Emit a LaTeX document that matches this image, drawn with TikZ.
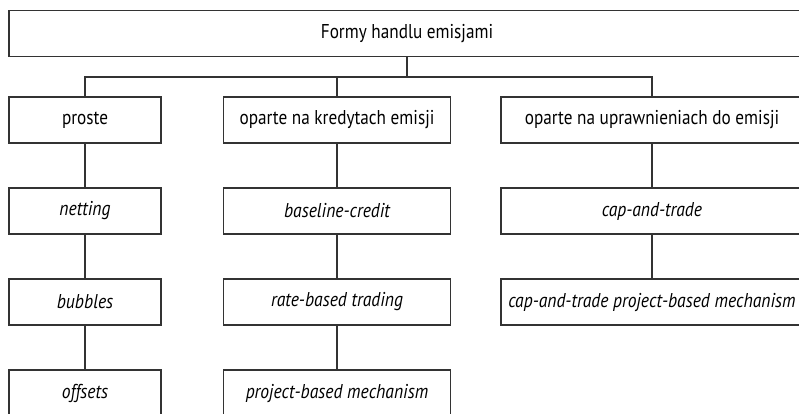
\documentclass[tikz,border=0pt]{standalone}
\usepackage{fontspec}
\setmainfont{PT Sans}[FakeStretch=0.86]
\newfontfamily\slantfam{PT Sans Italic}[FakeStretch=0.88]
\begin{document}
\begin{tikzpicture}[x=1pt,y=1pt,
  box/.style={draw=black!80,line width=1.1pt,minimum height=46pt,inner sep=0pt,font=\fontsize{20}{24}\selectfont},
  sub/.style={box,font=\fontsize{20}{24}\slantfam},
  link/.style={draw=black!80,line width=1.1pt}]
\useasboundingbox (0,0) rectangle (799,-414);
% root
\node[box,minimum width=796pt] (root) at (407,-33.5) {Formy handlu emisjami};
% first level
\node[box,minimum width=152pt] (a) at (85,-120) {proste};
\node[box,minimum width=227pt] (b) at (337,-120) {oparte na kredytach emisji};
\node[box,minimum width=302pt] (c) at (652,-120) {oparte na uprawnieniach do emisji};
% second level
\node[sub,minimum width=152pt] (a1) at (85,-211) {netting};
\node[sub,minimum width=152pt] (a2) at (85,-302) {bubbles};
\node[sub,minimum width=152pt] (a3) at (85,-393) {offsets};
\node[sub,minimum width=227pt] (b1) at (337,-211) {baseline-credit};
\node[sub,minimum width=227pt] (b2) at (337,-302) {rate-based trading};
\node[sub,minimum width=227pt] (b3) at (337,-393) {project-based mechanism};
\node[sub,minimum width=302pt] (c1) at (652,-211) {cap-and-trade};
\node[sub,minimum width=302pt] (c2) at (652,-302) {cap-and-trade project-based mechanism};
% tree connectors
\coordinate (j) at (407,-77);
\draw[link] (root.south) -- (j);
\draw[link] (a.north) |- (j) -| (c.north);
\draw[link] (b.north) -- (b.north |- j);
\draw[link] (a) -- (a1) (a1) -- (a2) (a2) -- (a3);
\draw[link] (b) -- (b1) (b1) -- (b2) (b2) -- (b3);
\draw[link] (c) -- (c1) (c1) -- (c2);
\end{tikzpicture}
\end{document}
